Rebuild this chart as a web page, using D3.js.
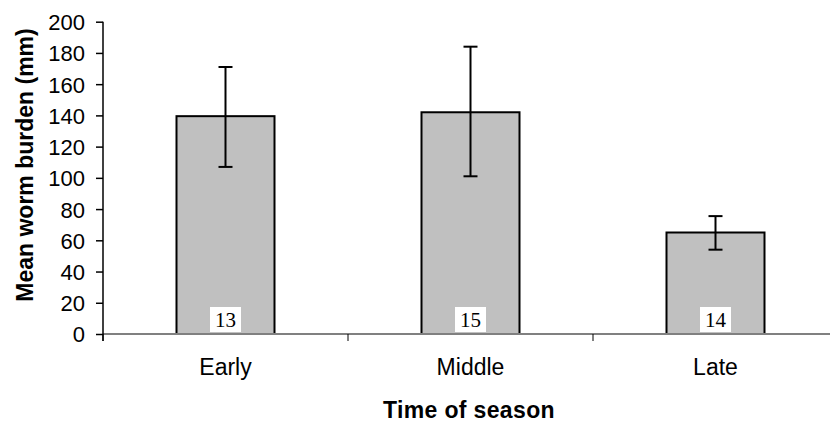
<!DOCTYPE html>
<html>
<head>
<meta charset="utf-8">
<script src="https://cdn.jsdelivr.net/npm/d3@7"></script>
<style>
  html, body { margin: 0; padding: 0; background: #fff; }
  svg { display: block; }
</style>
</head>
<body>
<svg id="chart" width="830" height="425"></svg>
<script>
// Mean worm burden by time of season, with error bars and sample sizes
const categories = ["Early", "Middle", "Late"];
const means = [139.5, 142, 65];
const errUpper = [171, 184, 75.5];
const errLower = [107, 101, 54];
const sampleSizes = [13, 15, 14];
const yTicks = [0, 20, 40, 60, 80, 100, 120, 140, 160, 180, 200];

(function () {
  const svg = d3.select("#chart");
  const plotLeft = 103, plotRight = 838, plotTop = 21.7, plotBottom = 334;
  const sans = "'Liberation Sans', Arial, sans-serif";
  const serif = "'Liberation Serif', 'Times New Roman', serif";

  const x = d3.scaleBand().domain(categories).range([plotLeft, plotRight])
    .paddingInner(0.6).paddingOuter(0.3);
  const y = d3.scaleLinear().domain([0, 200]).range([plotBottom, plotTop]);
  const step = x.step();

  // Bars
  svg.selectAll("rect.bar").data(categories).enter().append("rect")
    .attr("class", "bar")
    .attr("x", d => x(d))
    .attr("y", (d, i) => y(means[i]))
    .attr("width", x.bandwidth())
    .attr("height", (d, i) => y(0) - y(means[i]))
    .attr("fill", "#c0c0c0")
    .attr("stroke", "#000")
    .attr("stroke-width", 2);

  // Error bars and sample size labels
  const capHalf = 7;
  categories.forEach((c, i) => {
    const cx = x(c) + x.bandwidth() / 2;
    const g = svg.append("g").attr("stroke", "#000").attr("stroke-width", 2);
    g.append("line").attr("x1", cx).attr("x2", cx).attr("y1", y(errUpper[i])).attr("y2", y(errLower[i]));
    g.append("line").attr("x1", cx - capHalf).attr("x2", cx + capHalf).attr("y1", y(errUpper[i])).attr("y2", y(errUpper[i]));
    g.append("line").attr("x1", cx - capHalf).attr("x2", cx + capHalf).attr("y1", y(errLower[i])).attr("y2", y(errLower[i]));

    svg.append("rect")
      .attr("x", cx - 15.5).attr("y", y(0) - 27)
      .attr("width", 31).attr("height", 25)
      .attr("fill", "#fff");
    svg.append("text")
      .attr("x", cx).attr("y", y(0) - 7.5)
      .attr("text-anchor", "middle")
      .attr("font-family", serif).attr("font-size", 21)
      .attr("fill", "#000")
      .text(sampleSizes[i]);
  });

  // X axis line and ticks at category boundaries
  svg.append("line")
    .attr("x1", plotLeft).attr("x2", 830).attr("y1", plotBottom).attr("y2", plotBottom)
    .attr("stroke", "#808080").attr("stroke-width", 2);
  const boundaries = d3.range(categories.length + 1).map(i => plotLeft + i * step);
  svg.selectAll("line.xtick").data(boundaries).enter().append("line")
    .attr("class", "xtick")
    .attr("x1", d => d).attr("x2", d => d)
    .attr("y1", plotBottom).attr("y2", plotBottom + 7)
    .attr("stroke", "#000").attr("stroke-width", 1);

  // Category labels
  svg.selectAll("text.cat").data(categories).enter().append("text")
    .attr("class", "cat")
    .attr("x", d => x(d) + x.bandwidth() / 2)
    .attr("y", 375)
    .attr("text-anchor", "middle")
    .attr("font-family", sans).attr("font-size", 23)
    .attr("fill", "#000")
    .text(d => d);

  // Y axis
  const yAxis = d3.axisLeft(y).tickValues(yTicks).tickSize(7).tickPadding(11).tickSizeOuter(0);
  const ya = svg.append("g").attr("transform", `translate(${plotLeft},0)`).call(yAxis);
  ya.select(".domain").remove();
  ya.selectAll(".tick line").attr("stroke", "#000").attr("stroke-width", 1.5);
  ya.selectAll(".tick text")
    .attr("font-family", sans).attr("font-size", 22).attr("fill", "#000")
    .attr("dy", "0.36em");
  svg.append("line")
    .attr("x1", plotLeft).attr("x2", plotLeft).attr("y1", plotTop).attr("y2", plotBottom + 7)
    .attr("stroke", "#000").attr("stroke-width", 1.5);

  // Axis titles
  svg.append("text")
    .attr("x", 469).attr("y", 418)
    .attr("text-anchor", "middle")
    .attr("font-family", sans).attr("font-size", 23).attr("font-weight", "bold")
    .attr("letter-spacing", 0.35)
    .attr("fill", "#000")
    .text("Time of season");

  svg.append("text")
    .attr("transform", "translate(33,165) rotate(-90)")
    .attr("text-anchor", "middle")
    .attr("font-family", sans).attr("font-size", 23).attr("font-weight", "bold")
    .attr("fill", "#000")
    .text("Mean worm burden (mm)");
})();
</script>
</body>
</html>
